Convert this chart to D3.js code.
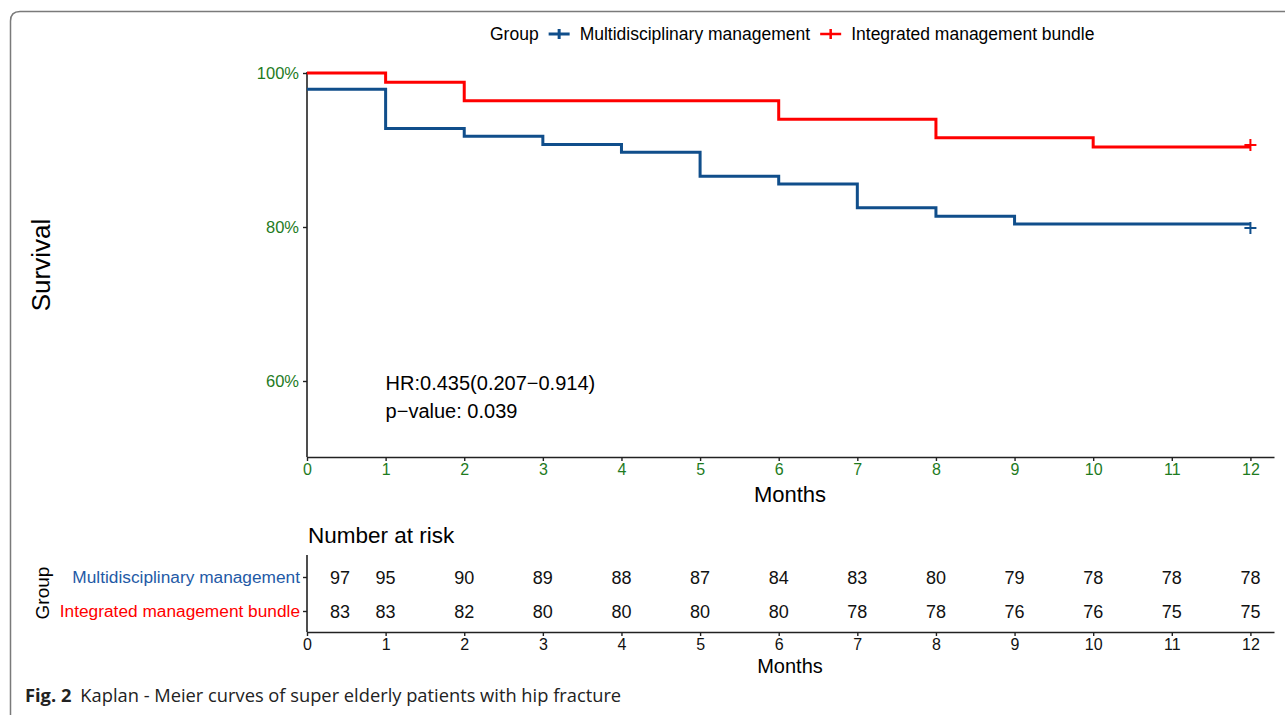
<!DOCTYPE html>
<html>
<head>
<meta charset="utf-8">
<script src="https://cdn.jsdelivr.net/npm/d3@7"></script>
<style>
  body { margin: 0; background: #fff; }
  svg { display: block; font-family: "Liberation Sans", Arial, sans-serif; }
  svg text { font-family: "Liberation Sans", Arial, sans-serif; }
</style>
</head>
<body>
<svg id="chart" width="1285" height="715"></svg>
<script>
// ---- data ----
var groups = ["Multidisciplinary management", "Integrated management bundle"];
var groupColors = ["#104E8B", "#FF0000"];
var labelColors = ["#1F5AA6", "#FF0000"];

var multiTimes = [0, 1, 2, 3, 4, 5, 6, 7, 8, 9, 12];
var multiSurv  = [0.979, 0.928, 0.918, 0.907, 0.897, 0.866, 0.856, 0.825, 0.814, 0.804, 0.804];
var integTimes = [0, 1, 2, 6, 8, 10, 12];
var integSurv  = [1.0, 0.988, 0.964, 0.940, 0.916, 0.904, 0.904];

var monthTicks = [0, 1, 2, 3, 4, 5, 6, 7, 8, 9, 10, 11, 12];
var survTicks  = [0.6, 0.8, 1.0];
var riskTimes  = [0.42, 1, 2, 3, 4, 5, 6, 7, 8, 9, 10, 11, 12];
var multiRisk  = [97, 95, 90, 89, 88, 87, 84, 83, 80, 79, 78, 78, 78];
var integRisk  = [83, 83, 82, 80, 80, 80, 80, 78, 78, 76, 76, 75, 75];

var hrText = "HR:0.435(0.207\u22120.914)";
var pText  = "p\u2212value: 0.039";

/***********************************************************************************************************/

var svg = d3.select("#chart");
var green = "#1E7B1E";

// figure frame
svg.append("path")
  .attr("d", "M10.5,715 V21 Q10.5,11.5 20,11.5 H1285")
  .attr("fill", "none").attr("stroke", "#7a7a7a").attr("stroke-width", 1.5);

var x = d3.scaleLinear().domain([0, 12.3]).range([307, 1274]);
var y = d3.scaleLinear().domain([0.5, 1]).range([458, 73]);

// main plot axes
var gx = svg.append("g").attr("transform", "translate(0,457)")
  .call(d3.axisBottom(x).tickValues(monthTicks).tickSizeOuter(0).tickSizeInner(4).tickPadding(3));
gx.selectAll("text").attr("fill", green).style("font-size", "16px");

var gy = svg.append("g").attr("transform", "translate(307,0)")
  .call(d3.axisLeft(y).tickValues(survTicks).tickSizeOuter(0).tickSizeInner(4).tickPadding(4)
    .tickFormat(d3.format(".0%")));
gy.select(".domain").attr("d", "M0,72V457");
gy.selectAll("text").attr("fill", green).style("font-size", "16.5px");

svg.selectAll(".domain").attr("stroke", "#222").attr("stroke-width", 1.6);
svg.selectAll(".tick line").attr("stroke", "#222").attr("stroke-width", 1.4);

// curves
var line = d3.line().x(function(d){ return x(d[0]); }).y(function(d){ return y(d[1]); }).curve(d3.curveStepAfter);
var curves = [d3.zip(multiTimes, multiSurv), d3.zip(integTimes, integSurv)];
curves.forEach(function(c, i){
  svg.append("path").datum(c).attr("d", line)
    .attr("fill", "none").attr("stroke", groupColors[i]).attr("stroke-width", 3);
  var last = c[c.length - 1];
  var cx = x(last[0]), cy = y(last[1]) + (i === 0 ? 4 : -2);
  svg.append("path").attr("d", "M" + (cx - 6) + "," + cy + "H" + (cx + 6) + "M" + cx + "," + (cy - 6) + "V" + (cy + 6))
    .attr("stroke", groupColors[i]).attr("stroke-width", 2);
});

// annotations
svg.append("text").attr("x", x(1)).attr("y", 390).style("font-size", "20px").text(hrText);
svg.append("text").attr("x", x(1)).attr("y", 418).style("font-size", "20px").text(pText);

svg.append("text").attr("transform", "translate(50,265) rotate(-90)").attr("text-anchor", "middle")
  .style("font-size", "26px").text("Survival");
svg.append("text").attr("x", 790).attr("y", 502).attr("text-anchor", "middle")
  .style("font-size", "22px").text("Months");

// legend
var leg = svg.append("g").style("font-size", "17.5px");
var lx = 490;
var t0 = leg.append("text").attr("x", lx).attr("y", 40).text("Group");
lx += t0.node().getComputedTextLength() + 10;
groups.forEach(function(g, i){
  leg.append("path").attr("d", "M" + lx + ",34H" + (lx + 21) + "M" + (lx + 10.5) + ",29V39")
    .attr("stroke", groupColors[i]).attr("stroke-width", i === 0 ? 3 : 2.5);
  var t = leg.append("text").attr("x", lx + 31).attr("y", 40).text(g);
  lx += 31 + t.node().getComputedTextLength() + 10;
});

/***********************************************************************************************************/
// risk table

svg.append("text").attr("x", 308).attr("y", 543).style("font-size", "22.5px").text("Number at risk");

var rowY = d3.scalePoint().domain(groups).range([577, 611]);
var rx = svg.append("g").attr("transform", "translate(0,632)")
  .call(d3.axisBottom(x).tickValues(monthTicks).tickSizeOuter(0).tickSizeInner(4).tickPadding(3));
rx.selectAll("text").attr("fill", "#111").style("font-size", "16px");

var ry = svg.append("g").attr("transform", "translate(307,0)")
  .call(d3.axisLeft(rowY).tickSizeOuter(0).tickSizeInner(4).tickPadding(3));
ry.select(".domain").attr("d", "M0,555V632");
ry.selectAll("text").attr("fill", function(d, i){ return labelColors[i]; }).style("font-size", "17.3px");

rx.select(".domain").attr("stroke", "#222").attr("stroke-width", 1.6);
ry.select(".domain").attr("stroke", "#222").attr("stroke-width", 1.6);
svg.selectAll(".tick line").attr("stroke", "#222").attr("stroke-width", 1.4);

[multiRisk, integRisk].forEach(function(r, i){
  svg.append("g").selectAll("text").data(r).join("text")
    .attr("x", function(d, j){ return x(riskTimes[j]); })
    .attr("y", rowY(groups[i]) + 6.5)
    .attr("text-anchor", "middle").style("font-size", "18px").attr("fill", "#111")
    .text(function(d){ return d; });
});

svg.append("text").attr("transform", "translate(49,593) rotate(-90)").attr("text-anchor", "middle")
  .style("font-size", "19px").text("Group");
svg.append("text").attr("x", 790).attr("y", 673).attr("text-anchor", "middle")
  .style("font-size", "20px").text("Months");

// caption
var cap = svg.append("text").attr("x", 25).attr("y", 702)
  .style("font-family", "'Open Sans', sans-serif").style("font-size", "18.3px").attr("fill", "#222");
cap.append("tspan").style("font-weight", "bold").text("Fig. 2");
cap.append("tspan").attr("dx", 9).text("Kaplan - Meier curves of super elderly patients with hip fracture");
</script>
</body>
</html>
